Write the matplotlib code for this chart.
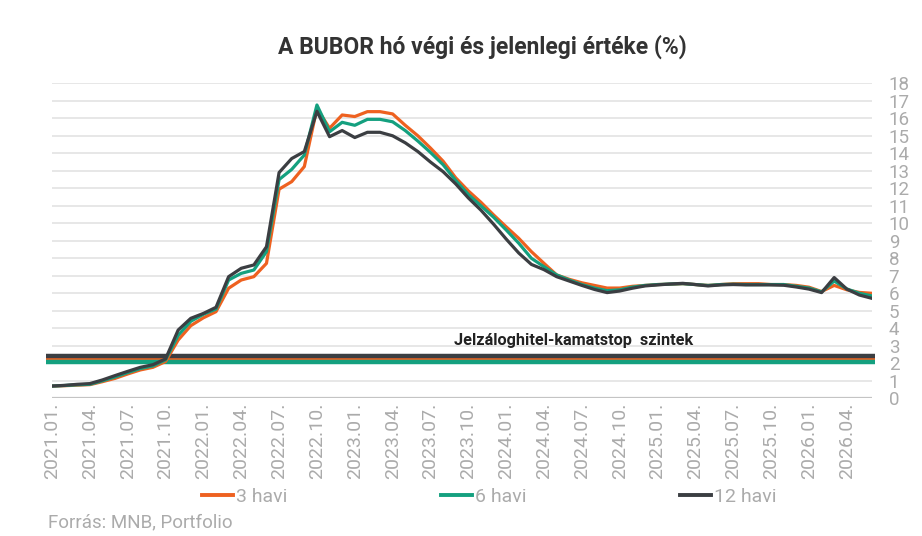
import matplotlib as mpl
import matplotlib.pyplot as plt
from matplotlib.lines import Line2D

# havi adatok 2021.01 - 2026.06
years = list(range(2021, 2027))
months = [f"{y}.{m:02d}." for y in years for m in range(1, 13)][:66]

bubor_3 = [0.70, 0.72, 0.75, 0.78, 0.95, 1.14, 1.39, 1.62, 1.77, 2.10, 3.33, 4.15,
           4.60, 4.95, 6.29, 6.76, 6.95, 7.71, 11.95, 12.38, 13.24, 16.57, 15.43, 16.19,
           16.10, 16.38, 16.38, 16.25, 15.60, 15.00, 14.30, 13.55, 12.60, 11.85, 11.20, 10.48,
           9.80, 9.14, 8.38, 7.71, 7.05, 6.80, 6.60, 6.45, 6.30, 6.30, 6.40, 6.45,
           6.50, 6.52, 6.55, 6.50, 6.45, 6.50, 6.55, 6.55, 6.55, 6.50, 6.50, 6.45,
           6.35, 6.10, 6.45, 6.20, 6.05, 6.00]
bubor_6 = [0.70, 0.73, 0.77, 0.80, 1.00, 1.22, 1.47, 1.70, 1.85, 2.20, 3.60, 4.40,
           4.80, 5.10, 6.76, 7.14, 7.33, 8.38, 12.50, 13.08, 13.90, 16.76, 15.23, 15.77,
           15.60, 15.94, 15.94, 15.80, 15.30, 14.70, 14.05, 13.35, 12.45, 11.65, 11.00, 10.35,
           9.62, 8.86, 8.00, 7.52, 7.05, 6.76, 6.50, 6.30, 6.15, 6.20, 6.35, 6.45,
           6.50, 6.53, 6.55, 6.50, 6.45, 6.50, 6.52, 6.50, 6.50, 6.50, 6.50, 6.40,
           6.30, 6.08, 6.70, 6.25, 6.00, 5.85]
bubor_12 = [0.70, 0.74, 0.80, 0.84, 1.05, 1.30, 1.54, 1.77, 1.92, 2.25, 3.90, 4.57,
            4.85, 5.20, 6.95, 7.43, 7.62, 8.66, 12.90, 13.70, 14.10, 16.40, 14.95, 15.30,
            14.90, 15.20, 15.20, 15.00, 14.60, 14.10, 13.50, 12.95, 12.25, 11.45, 10.75, 9.95,
            9.10, 8.30, 7.65, 7.35, 6.95, 6.70, 6.45, 6.22, 6.04, 6.13, 6.29, 6.42,
            6.48, 6.53, 6.57, 6.50, 6.42, 6.48, 6.50, 6.48, 6.48, 6.48, 6.46, 6.36,
            6.24, 6.04, 6.90, 6.24, 5.90, 5.71]

# kamatstop szintek
stop_3 = 2.25
stop_6 = 2.05
stop_12 = 2.40

C3 = '#ee6120'
C6 = '#14a07f'
C12 = '#3b3e42'
GRAY = '#ababab'

plt.rcParams['font.family'] = ['Roboto', 'DejaVu Sans']

fig = plt.figure(figsize=(9.22, 5.36), dpi=100)
ax = fig.add_axes([0.0564, 0.2569, 0.8894, 0.5877])

for v in range(1, 19):
    ax.axhline(v, color='#e3e3e3', lw=1.2, zorder=0)
ax.axhline(0, color='#c4c4c4', lw=1.6, zorder=1)

for lvl, c in [(stop_3, C3), (stop_6, C6), (stop_12, C12)]:
    ax.axhline(lvl, xmin=-0.007, xmax=1.004, color=c, lw=3.2, clip_on=False,
               solid_capstyle='butt', zorder=2)

xs = range(len(months))
ax.plot(xs, bubor_3, color=C3, lw=2.3, zorder=3, label='3 havi')
ax.plot(xs, bubor_6, color=C6, lw=2.3, zorder=4, label='6 havi')
ax.plot(xs, bubor_12, color=C12, lw=2.3, zorder=5, label='12 havi')

ax.text(31.9, 3.33, 'Jelzáloghitel-kamatstop  szintek', fontsize=11.7,
        fontweight='bold', color='#222222', va='center', ha='left')

ax.set_xlim(0, len(months) - 1)
ax.set_ylim(0, 18)
for s in ax.spines.values():
    s.set_visible(False)

ax.set_xticks(list(xs)[::3])
ax.set_xticklabels(months[::3], rotation=90, fontsize=14, color=GRAY)
ax.tick_params(axis='x', length=0, pad=3)
ax.yaxis.tick_right()
ax.set_yticks(range(0, 19))
ax.tick_params(axis='y', length=0, pad=12, labelsize=13.5, labelcolor=GRAY)
for t in ax.get_yticklabels():
    t.set_horizontalalignment('left')

fig.text(482 / 922, 1 - 47 / 536, 'A BUBOR hó végi és jelenlegi értéke (%)',
         ha='center', va='center', fontsize=16.5, fontweight='bold', color='#333333')

handles = [Line2D([], [], color=C3, lw=2.8), Line2D([], [], color=C6, lw=2.8),
           Line2D([], [], color=C12, lw=2.8)]
fig.legend(handles, ['3 havi', '6 havi', '12 havi'], loc='center',
           bbox_to_anchor=(489 / 922, 1 - 497 / 536), ncol=3, frameon=False,
           fontsize=14, labelcolor=GRAY, handlelength=1.6, handletextpad=0.15,
           columnspacing=7.9)

fig.text(48 / 922, 1 - 522 / 536, 'Forrás: MNB, Portfolio', ha='left', va='center',
         fontsize=13.5, color=GRAY)

fig.savefig('out.png', dpi=100)
